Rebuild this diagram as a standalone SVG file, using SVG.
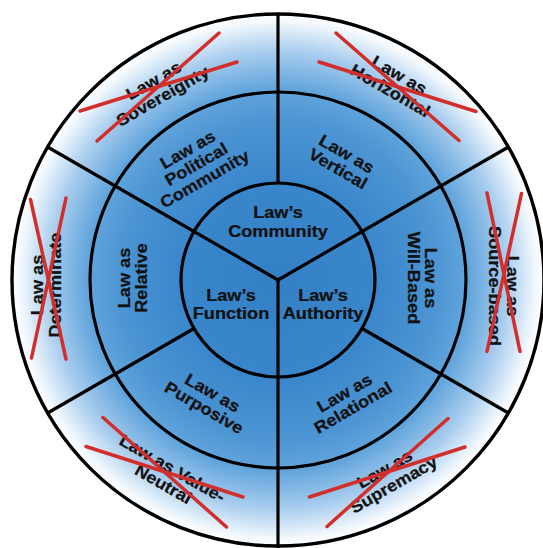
<svg xmlns="http://www.w3.org/2000/svg" width="543" height="548" viewBox="0 0 543 548">
  <defs>
    <radialGradient id="bg" gradientUnits="userSpaceOnUse" cx="278" cy="280" r="266">
      <stop offset="0" stop-color="#3380c6"/>
      <stop offset="0.36" stop-color="#3986cb"/>
      <stop offset="0.6" stop-color="#4d95d3"/>
      <stop offset="0.72" stop-color="#62a5dc"/>
      <stop offset="0.86" stop-color="#a8cdee"/>
      <stop offset="0.97" stop-color="#f2f8fd"/>
      <stop offset="1" stop-color="#ffffff"/>
    </radialGradient>
    <style>
      .t { font-family: "Liberation Sans", Arial, Helvetica, sans-serif; font-weight: bold; font-size: 16.5px; text-anchor: middle; fill: #111; stroke: #111; stroke-width: 0.25; }
      .ring { fill: none; stroke: #000; stroke-width: 3.2; }
      .spoke { stroke: #000; stroke-width: 3.2; fill: none; }
      .x { stroke: #d22e2b; stroke-width: 3.5; stroke-linecap: round; fill: none; }
    </style>
  </defs>
  <rect width="543" height="548" fill="#ffffff"/>
  <g id="rings">
    <circle cx="278" cy="280" r="266" fill="url(#bg)" stroke="#000" stroke-width="3.4"/>
    <circle class="ring" cx="278" cy="280" r="188"/>
    <circle class="ring" cx="278" cy="280" r="97"/>
  </g>
  <g id="connectors">
    <line class="spoke" x1="278" y1="14" x2="278" y2="183"/>
    <line class="spoke" x1="278" y1="280" x2="278" y2="548"/>
    <line class="spoke" x1="278" y1="280" x2="47.6" y2="147"/>
    <line class="spoke" x1="278" y1="280" x2="508.4" y2="147"/>
    <line class="spoke" x1="362" y1="328.5" x2="508.4" y2="413"/>
    <line class="spoke" x1="194" y1="328.5" x2="47.6" y2="413"/>
  </g>

  <g id="laws-community" transform="translate(278,221.5) scale(1.1,1)">
    <text class="t" x="0" y="-3.3">Law’s<tspan x="0" dy="18.6">Community</tspan></text>
  </g>
  <g id="laws-function" transform="translate(231,304) scale(1.1,1)">
    <text class="t" x="0" y="-3.3">Law’s<tspan x="0" dy="18.6">Function</tspan></text>
  </g>
  <g id="laws-authority" transform="translate(323,304) scale(1.1,1)">
    <text class="t" x="0" y="-3.3">Law’s<tspan x="0" dy="18.6">Authority</tspan></text>
  </g>

  <g id="law-as-political-community" transform="translate(196,164) rotate(-30) scale(1.1,1)">
    <text class="t" x="0" y="-11">Law as<tspan x="0" dy="17">Political</tspan><tspan x="0" dy="17">Community</tspan></text>
  </g>
  <g id="law-as-vertical" transform="translate(342.5,161) rotate(30) scale(1.1,1)">
    <text class="t" x="0" y="-2.5">Law as<tspan x="0" dy="17">Vertical</tspan></text>
  </g>
  <g id="law-as-will-based" transform="translate(422.5,278) rotate(90) scale(1.1,1)">
    <text class="t" x="0" y="-2.5">Law as<tspan x="0" dy="17">Will-Based</tspan></text>
  </g>
  <g id="law-as-relational" transform="translate(348.5,400) rotate(-30) scale(1.1,1)">
    <text class="t" x="0" y="-2.5">Law as<tspan x="0" dy="17">Relational</tspan></text>
  </g>
  <g id="law-as-purposive" transform="translate(208.5,400) rotate(30) scale(1.1,1)">
    <text class="t" x="0" y="-2.5">Law as<tspan x="0" dy="17">Purposive</tspan></text>
  </g>
  <g id="law-as-relative" transform="translate(132.5,278) rotate(-90) scale(1.1,1)">
    <text class="t" x="0" y="-2.5">Law as<tspan x="0" dy="17">Relative</tspan></text>
  </g>

  <g id="law-as-sovereignty">
    <g transform="translate(158,88) rotate(-30) scale(1.1,1)">
      <text class="t" x="0" y="-3">Law as<tspan x="0" dy="18">Sovereignty</tspan></text>
    </g>
    <line class="x" x1="219" y1="33" x2="97" y2="141"/>
    <line class="x" x1="237" y1="62" x2="80" y2="111"/>
  </g>
  <g id="law-as-horizontal">
    <g transform="translate(395,82.5) rotate(30) scale(1.1,1)">
      <text class="t" x="0" y="-3">Law as<tspan x="0" dy="18">Horizontal</tspan></text>
    </g>
    <line class="x" x1="336" y1="33" x2="459" y2="140.5"/>
    <line class="x" x1="319" y1="62" x2="476" y2="111.5"/>
  </g>
  <g id="law-as-source-based">
    <g transform="translate(504,286) rotate(90) scale(1.1,1)">
      <text class="t" x="0" y="-3">Law as<tspan x="0" dy="18">Source-based</tspan></text>
    </g>
    <line class="x" x1="487" y1="193" x2="520" y2="351.5"/>
    <line class="x" x1="521.5" y1="193.5" x2="487" y2="351.5"/>
  </g>
  <g id="law-as-supremacy">
    <g transform="translate(389,476.5) rotate(-30) scale(1.1,1)">
      <text class="t" x="0" y="-3">Law as<tspan x="0" dy="18">Supremacy</tspan></text>
    </g>
    <line class="x" x1="448" y1="418.5" x2="327" y2="526.5"/>
    <line class="x" x1="465" y1="447" x2="309.5" y2="497"/>
  </g>
  <g id="law-as-value-neutral">
    <g transform="translate(168,476) rotate(30) scale(1.1,1)">
      <text class="t" x="0" y="-3">Law as Value-<tspan x="0" dy="18">Neutral</tspan></text>
    </g>
    <line class="x" x1="103" y1="417.5" x2="226.5" y2="527"/>
    <line class="x" x1="86" y1="446.5" x2="243" y2="497"/>
  </g>
  <g id="law-as-determinate">
    <g transform="translate(46,285) rotate(-90) scale(1.1,1)">
      <text class="t" x="0" y="-3">Law as<tspan x="0" dy="18">Determinate</tspan></text>
    </g>
    <line class="x" x1="30.5" y1="199.5" x2="66" y2="359"/>
    <line class="x" x1="66" y1="198" x2="31.5" y2="358"/>
  </g>
</svg>
